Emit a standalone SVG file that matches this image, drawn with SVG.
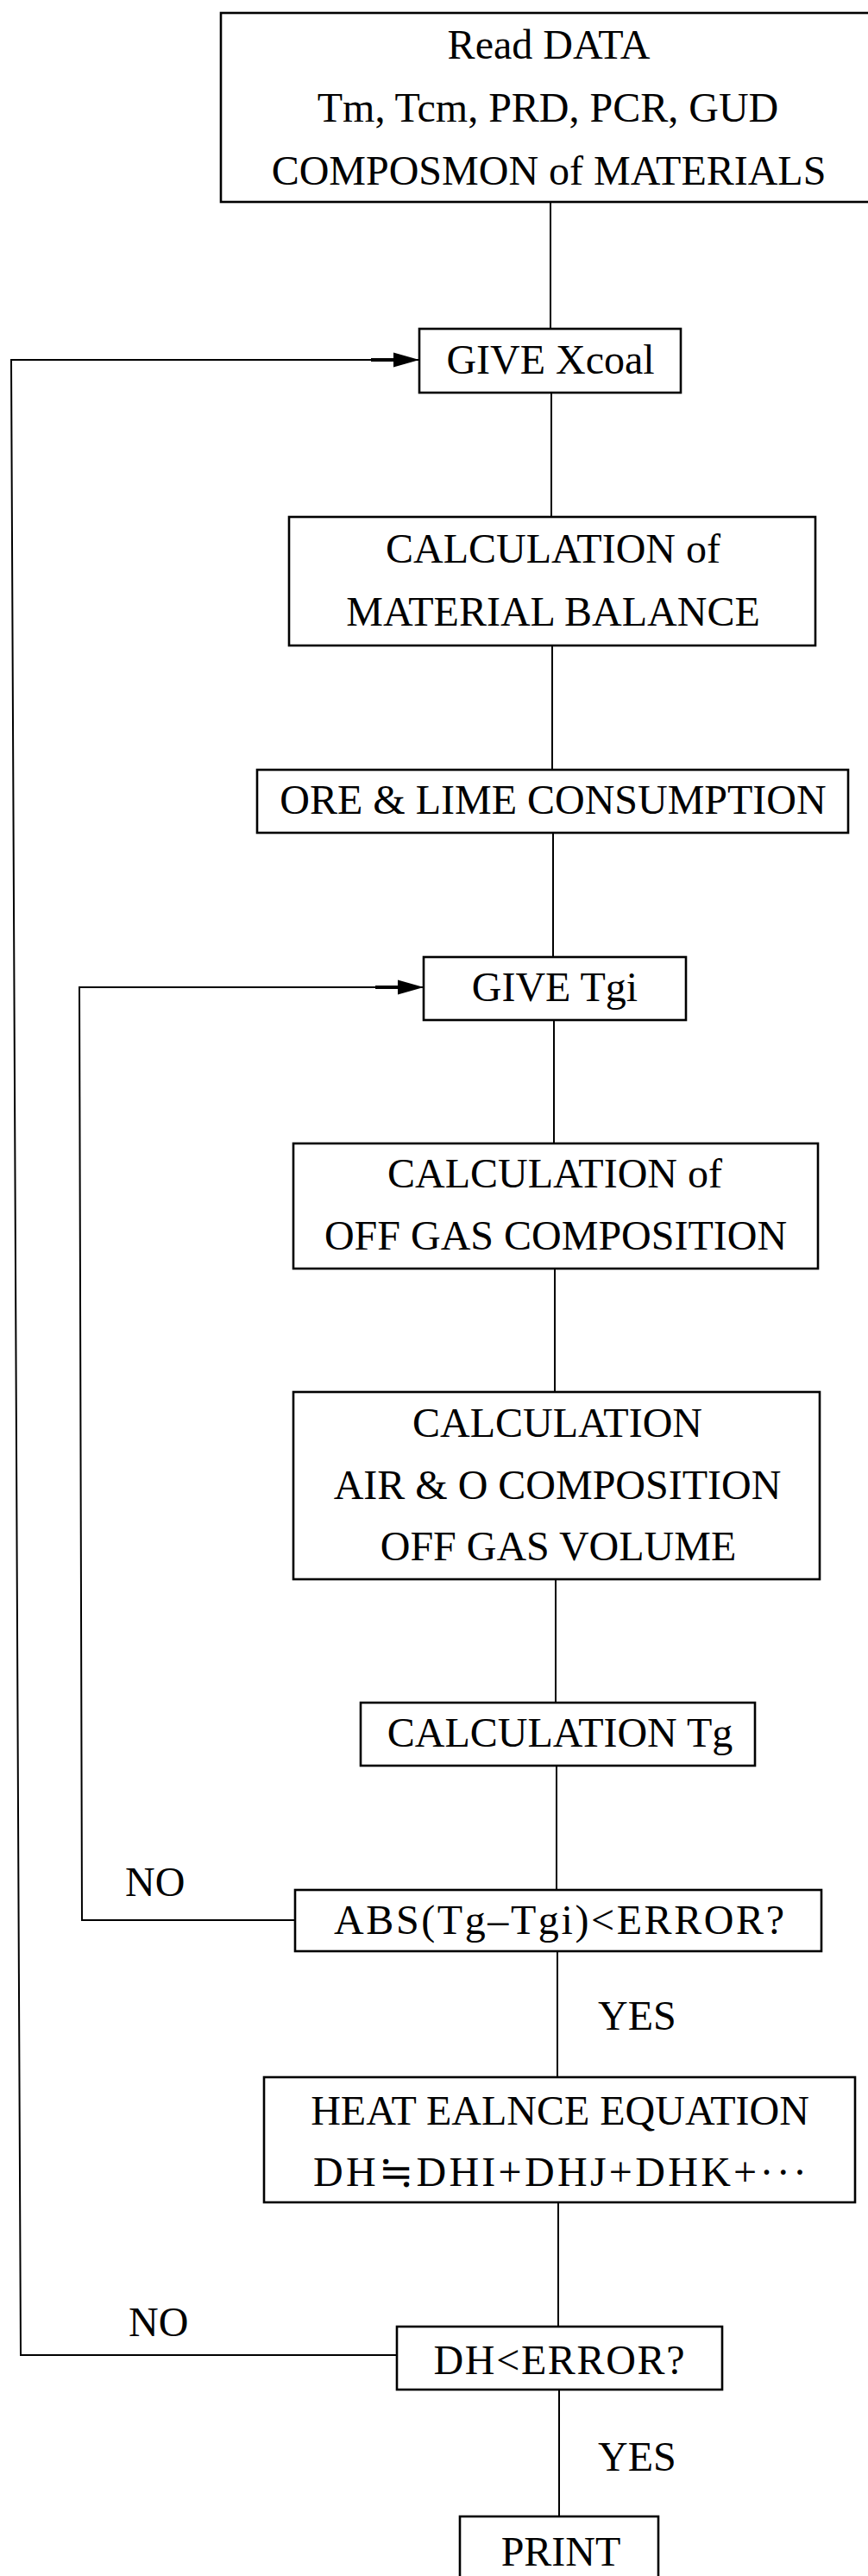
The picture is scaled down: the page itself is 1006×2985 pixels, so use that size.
<svg xmlns="http://www.w3.org/2000/svg" width="1006" height="2985" viewBox="0 0 1006 2985">
  <style>
    .box { fill: #ffffff; stroke: #000000; stroke-width: 2.6; }
    .ln { fill: none; stroke: #000000; stroke-width: 2; }
    .t { font-family: "Liberation Serif", "DejaVu Serif", "Noto Sans CJK JP", serif; font-size: 48px; fill: #000000; text-anchor: middle; }
    .lbl { font-family: "Liberation Serif", "DejaVu Serif", serif; font-size: 48px; fill: #000000; }
  </style>
  <defs>
    <marker id="arr" markerUnits="userSpaceOnUse" viewBox="0 0 56 18" refX="56" refY="9" markerWidth="56" markerHeight="18" orient="auto">
      <rect x="0" y="7" width="30" height="4" fill="#000"/>
      <path d="M26,0.5 L56,9 L26,17.5 Z" fill="#000"/>
    </marker>
  </defs>
  <rect width="1006" height="2985" fill="#ffffff"/>

  <g id="connectors">
    <line class="ln" x1="638" y1="234" x2="638" y2="381"/>
    <line class="ln" x1="639" y1="455" x2="639" y2="599"/>
    <line class="ln" x1="640" y1="748" x2="640" y2="892"/>
    <line class="ln" x1="641" y1="965" x2="641" y2="1109"/>
    <line class="ln" x1="642" y1="1182" x2="642" y2="1325"/>
    <line class="ln" x1="643" y1="1470" x2="643" y2="1613"/>
    <line class="ln" x1="644" y1="1830" x2="644" y2="1973"/>
    <line class="ln" x1="645" y1="2046" x2="645" y2="2190"/>
    <line class="ln" x1="646" y1="2261" x2="646" y2="2407"/>
    <line class="ln" x1="647" y1="2552" x2="647" y2="2696"/>
    <line class="ln" x1="648" y1="2769" x2="648" y2="2916"/>
    <polyline class="ln" points="460,2729 24,2729 13,417 486,417" marker-end="url(#arr)"/>
    <polyline class="ln" points="342,2225 95,2225 92,1144 491,1144" marker-end="url(#arr)"/>
    <text class="lbl" x="145" y="2197">NO</text>
    <text class="lbl" x="693" y="2352">YES</text>
    <text class="lbl" x="149" y="2707">NO</text>
    <text class="lbl" x="693" y="2863">YES</text>
  </g>

  <g id="read-data">
    <rect class="box" x="256" y="15" width="762" height="219"/>
    <text class="t" x="636" y="68">Read DATA</text>
    <text class="t" x="635" y="141">Tm, Tcm, PRD, PCR, GUD</text>
    <text class="t" x="636" y="214">COMPOSMON of MATERIALS</text>
  </g>
  <g id="give-xcoal">
    <rect class="box" x="486" y="381" width="303" height="74"/>
    <text class="t" x="638" y="433">GIVE Xcoal</text>
  </g>
  <g id="material-balance">
    <rect class="box" x="335" y="599" width="610" height="149"/>
    <text class="t" x="641" y="652">CALCULATION of</text>
    <text class="t" x="641" y="725">MATERIAL BALANCE</text>
  </g>
  <g id="ore-lime">
    <rect class="box" x="298" y="892" width="685" height="73"/>
    <text class="t" x="641" y="943">ORE &amp; LIME CONSUMPTION</text>
  </g>
  <g id="give-tgi">
    <rect class="box" x="491" y="1109" width="304" height="73"/>
    <text class="t" x="643" y="1160">GIVE Tgi</text>
  </g>
  <g id="off-gas-composition">
    <rect class="box" x="340" y="1325" width="608" height="145"/>
    <text class="t" x="643" y="1376">CALCULATION of</text>
    <text class="t" x="644" y="1448">OFF GAS COMPOSITION</text>
  </g>
  <g id="air-o-composition">
    <rect class="box" x="340" y="1613" width="610" height="217"/>
    <text class="t" x="646" y="1665">CALCULATION</text>
    <text class="t" x="646" y="1737">AIR &amp; O COMPOSITION</text>
    <text class="t" x="647" y="1808">OFF GAS VOLUME</text>
  </g>
  <g id="calc-tg">
    <rect class="box" x="418" y="1973" width="457" height="73"/>
    <text class="t" x="649" y="2024">CALCULATION Tg</text>
  </g>
  <g id="abs-check">
    <rect class="box" x="342" y="2190" width="610" height="71"/>
    <text class="t" x="648" y="2241" textLength="522" lengthAdjust="spacing">ABS(Tg–Tgi)&lt;ERROR?</text>
  </g>
  <g id="heat-balance">
    <rect class="box" x="306" y="2407" width="685" height="145"/>
    <text class="t" x="649" y="2462">HEAT EALNCE EQUATION</text>
    <text class="t" x="649" y="2533" textLength="572" lengthAdjust="spacing">DH≒DHI+DHJ+DHK+···</text>
  </g>
  <g id="dh-check">
    <rect class="box" x="460" y="2696" width="377" height="73"/>
    <text class="t" x="648" y="2751" textLength="291" lengthAdjust="spacing">DH&lt;ERROR?</text>
  </g>
  <g id="print">
    <rect class="box" x="533" y="2916" width="230" height="100"/>
    <text class="t" x="650" y="2973">PRINT</text>
  </g>
</svg>
